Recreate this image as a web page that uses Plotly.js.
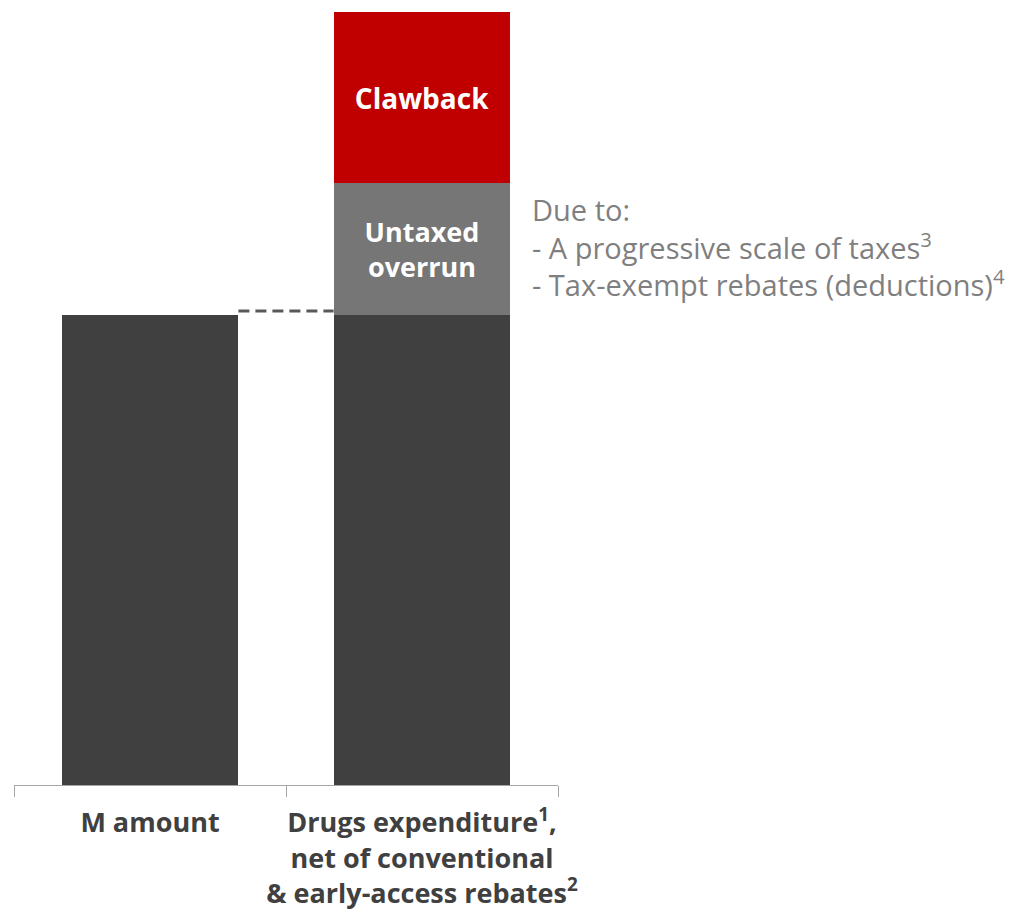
<!DOCTYPE html>
<html>
<head>
<meta charset="utf-8">
<script src="https://cdn.plot.ly/plotly-3.0.1.min.js"></script>
<style>html,body{margin:0;padding:0;background:#fff;}#chart{width:1022px;height:919px;}</style>
</head>
<body>
<div id="chart"></div>
<script>
const categories = ["M amount", "Drugs expenditure<sup>1</sup>,<br>net of conventional<br>&amp; early-access rebates<sup>2</sup>"];
const baseValues = [470, 470];
const untaxedValues = [0, 132];
const clawbackValues = [0, 171];
const untaxedLabel = "Untaxed<br>overrun";
const clawbackLabel = "Clawback";
const noteLines = ["Due to:", "- A progressive scale of taxes<sup>3</sup>", "- Tax-exempt rebates (deductions)<sup>4</sup>"];
const noteY = [576, 539, 502];

const FONT = "Open Sans, Lato, sans-serif";

const traces = [
  {type: "bar", x: categories, y: baseValues, marker: {color: "#404040"}, hoverinfo: "skip"},
  {type: "bar", x: categories, y: untaxedValues, marker: {color: "#767676"},
   text: untaxedValues.map(v => v > 0 ? untaxedLabel : ""), textposition: "inside", insidetextanchor: "middle",
   textfont: {color: "#ffffff", size: 27, family: FONT, weight: "bold"}, hoverinfo: "skip"},
  {type: "bar", x: categories, y: clawbackValues, marker: {color: "#C00000"},
   text: clawbackValues.map(v => v > 0 ? clawbackLabel : ""), textposition: "inside", insidetextanchor: "middle",
   textfont: {color: "#ffffff", size: 28, family: FONT, weight: "bold"}, hoverinfo: "skip"}
];

const annotations = noteLines.map((t, i) => ({
  text: t, xref: "paper", x: 0.9485, xanchor: "left", yref: "y", y: noteY[i], yanchor: "middle",
  showarrow: false, align: "left", font: {family: FONT, size: 29, color: "#7f7f7f"}
}));

const layout = {
  width: 1022, height: 919,
  margin: {l: 14, r: 464, t: 12, b: 134, pad: 0},
  barmode: "stack", bargap: 0.355,
  showlegend: false,
  paper_bgcolor: "#ffffff", plot_bgcolor: "#ffffff",
  font: {family: FONT},
  xaxis: {
    type: "category", showline: true, linecolor: "#a6a6a6", linewidth: 1,
    ticks: "outside", tickson: "boundaries", ticklen: 11, tickcolor: "#a6a6a6", tickwidth: 1,
    tickangle: 0, automargin: false, ticklabelstandoff: 14,
    tickfont: {family: FONT, size: 27, color: "#404040", weight: "bold"},
    showgrid: false, zeroline: false, fixedrange: true
  },
  yaxis: {range: [0, 773], visible: false, showgrid: false, zeroline: false, fixedrange: true},
  shapes: [{
    type: "line", xref: "x", yref: "y", x0: 0.325, x1: 0.675, y0: baseValues[0] + 4, y1: baseValues[0] + 4,
    line: {color: "#595959", width: 3, dash: "11px,6px"}
  }],
  annotations: annotations
};

Plotly.newPlot("chart", traces, layout, {displayModeBar: false, staticPlot: true});
</script>
</body>
</html>
